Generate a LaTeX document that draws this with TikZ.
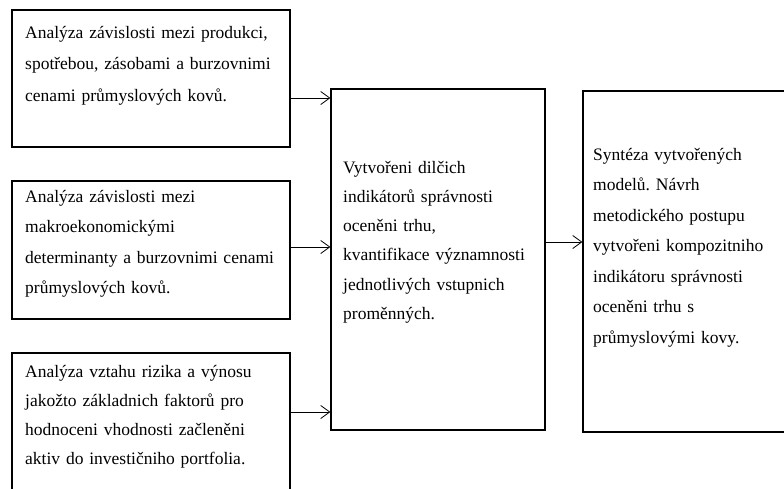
\documentclass[tikz,border=0pt]{standalone}
\usepackage{fontspec}
\setmainfont{Liberation Serif}
\usetikzlibrary{arrows.meta}
\tikzset{
  box/.style={draw=black, line width=1.2pt, rectangle, inner sep=0pt},
  txt/.style={anchor=base west, inner sep=0pt, align=left, text width=#1, text=black},
  arr/.style={draw=black, line width=0.9pt, -{Straight Barb[length=9pt,width=13pt,line width=0.8pt]}}
}
\newcommand{\fs}[1]{\fontsize{17.5}{#1}\selectfont\frenchspacing}
\begin{document}
\begin{tikzpicture}[x=1pt,y=-1pt]
\useasboundingbox (0,0) rectangle (784,488);
% boxes
\node[box, minimum width=278pt, minimum height=137pt] (b1) at (151,78.5) {};
\node[box, minimum width=278pt, minimum height=138pt] (b2) at (151,250) {};
\node[box, minimum width=278pt, minimum height=139pt] (b3) at (151,422.5) {};
\node[box, minimum width=214pt, minimum height=341pt] (m) at (438,259.5) {};
\node[box, minimum width=210pt, minimum height=341pt] (r) at (688,261.5) {};
% texts
\node[txt=270pt, font=\fs{31.7}] (t1) at (25,38) {Analýza závislosti mezi produkci,\\spotřebou, zásobami a burzovnimi\\cenami průmyslových kovů.};
\node[txt=270pt, font=\fs{30.5}] (t2) at (25,202) {Analýza závislosti mezi\\makroekonomickými\\determinanty a burzovnimi cenami\\průmyslových kovů.};
\node[txt=270pt, font=\fs{29.3}] (t3) at (25,377) {Analýza vztahu rizika a výnosu\\jakožto základnich faktorů pro\\hodnoceni vhodnosti začleněni\\aktiv do investičniho portfolia.};
\node[txt=200pt, font=\fs{29.3}] (t4) at (343,173) {Vytvořeni dilčich\\indikátorů správnosti\\oceněni trhu,\\kvantifikace významnosti\\jednotlivých vstupnich\\proměnných.};
\node[txt=190pt, font=\fs{30.5}] (t5) at (593,160) {Syntéza vytvořených\\modelů. Návrh\\metodického postupu\\vytvořeni kompozitniho\\indikátoru správnosti\\oceněni trhu s\\průmyslovými kovy.};
% connectors
\draw[arr] ([yshift=-19.5pt]b1.east) coordinate (s1) -- (s1 -| m.west);
\draw[arr] ([yshift=3pt]b2.east) coordinate (s2) -- (s2 -| m.west);
\draw[arr] ([yshift=10.5pt]b3.east) coordinate (s3) -- (s3 -| m.west);
\draw[arr] ([yshift=17.5pt]m.east) coordinate (s4) -- (s4 -| r.west);
\end{tikzpicture}
\end{document}
